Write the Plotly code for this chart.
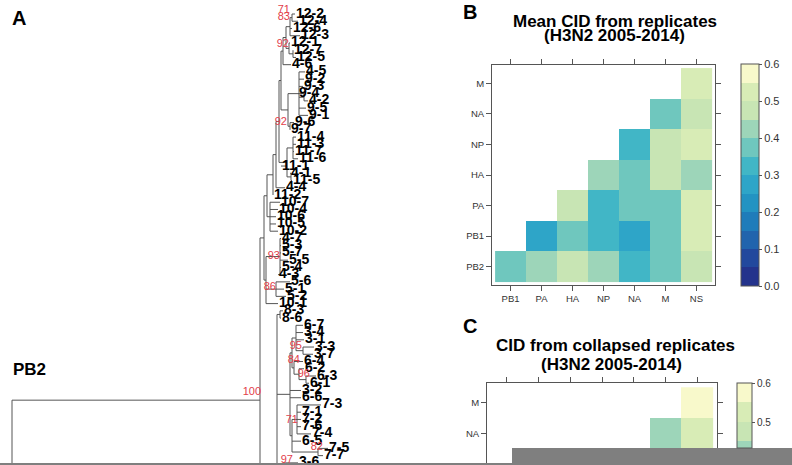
import plotly.graph_objects as go

W, H = 792, 465
FONT = "Liberation Sans, Arial, Helvetica, sans-serif"

# ---------------- panel A: PB2 replicate tree ----------------
leaf_names = ["12-2", "12-4", "12-6", "12-3", "12-1", "12-7", "12-5", "4-6", "4-5", "9-2",
              "9-3", "9-4", "4-2", "9-5", "9-1", "9-6", "9-7", "11-4", "11-3", "11-7",
              "11-6", "11-1", "4-1", "11-5", "4-4", "11-2", "10-7", "10-4", "10-6", "10-5",
              "10-2", "4-7", "5-3", "5-7", "5-5", "5-4", "4-3", "5-6", "5-1", "5-2",
              "10-1", "8-3", "8-6", "6-7", "3-4", "3-1", "3-3", "3-7", "6-4", "6-2",
              "6-3", "6-1", "3-2", "6-6", "7-3", "7-1", "7-2", "7-6", "7-4", "6-5",
              "7-5", "7-7", "3-6"]
# tip depth of every leaf (tree units)
leaf_tip = [295, 298, 292, 300, 290, 293, 296, 291, 305, 304,
            303, 298, 308, 306, 308, 294, 290, 296, 296, 294,
            298, 281, 290, 292, 285, 273, 280, 278, 276, 276,
            278, 281, 281, 281, 288, 281, 278, 290, 284, 286,
            278, 283, 281, 303, 303, 304, 314, 313, 303, 304,
            316, 309, 301, 301, 321, 301, 301, 301, 311, 301,
            328, 323, 298]

# clades: (node depth, [children]); ints are leaf rows, ("stub", row) runs below the page
c12 = (286, [(290, [(292, [0, 1]), 2, 3]), (289, [4, (293, [5, 6])])])
c9 = (288, [(299, [8, 9, 10, (304, [11, 12]), 13, 14]), (290, [15, 16])])
c11 = (287, [(293, [17, 18, 19, 20]), 21, (291, [22, 23])])
c10 = (270, [26, 27, 28, 29, 30])
c5 = (266, [(280, [31, 32, 33, 34, 35, 36]), (276, [37, 38, 39]), 40])
upper = (264, [(267, [(273, [(276, [(279, [(281, [(283, [c12, 7]), c9]), c11]), 24]), 25]), c10]), c5])
c6 = (292, [(296, [43, 44, 45, (303, [46, 47])]), (294, [48, (299, [49, (306, [50, 51])])])])
c7 = (292, [(297, [54, 55, 56, 57, 58]), 59, (318, [60, 61])])
lower = (277, [(280, [41, 42]), (290, [c6, 52, 53, c7]), (283, [62, ("stub", 66)]), ("stub", 110)])
tree = (12, [(260, [upper, lower]), ("stub", 150)])

# bootstrap support labels (right end depth, row)
bs_text = ["71", "83", "92", "92", "93", "86", "95", "84", "96", "100", "71", "82", "97"]
bs_x = [290, 290, 289, 287, 280, 276, 302, 300, 310, 261, 298, 323, 293]
bs_row = [-0.55, 0.41, 4.14, 14.9, 33.4, 37.7, 45.9, 47.8, 49.7, 52.3, 56.1, 59.8, 61.6]

# ---------------- panels B / C: CID heatmaps ----------------
genes_x = ["PB1", "PA", "HA", "NP", "NA", "M", "NS"]
genes_y = ["PB2", "PB1", "PA", "HA", "NP", "NA", "M"]
cid_mean = [
    [0.37, 0.42, 0.47, 0.42, 0.32, 0.37, 0.47],
    [None, 0.29, 0.37, 0.32, 0.29, 0.37, 0.52],
    [None, None, 0.47, 0.32, 0.37, 0.37, 0.52],
    [None, None, None, 0.42, 0.37, 0.47, 0.42],
    [None, None, None, None, 0.32, 0.47, 0.52],
    [None, None, None, None, None, 0.37, 0.47],
    [None, None, None, None, None, None, 0.52],
]
cid_collapsed = [
    [None] * 7,
    [None] * 7,
    [None] * 7,
    [None] * 7,
    [None] * 7,
    [None, None, None, None, None, 0.42, 0.52],
    [None, None, None, None, None, None, 0.57],
]
band_edges = [0.0, 0.05, 0.1, 0.15, 0.2, 0.25, 0.3, 0.35, 0.4, 0.45, 0.5, 0.55, 0.6]
band_colors = ["#24338c", "#22489d", "#2164ad", "#1f7cba", "#2393c2", "#2ea5c8",
               "#41b6c6", "#6fc7be", "#9dd5b9", "#c8e5b4", "#d8ecb6", "#f8f9cb"]


def discrete_scale(cmin, cmax):
    scale = []
    for lo, hi, col in zip(band_edges[:-1], band_edges[1:], band_colors):
        if hi <= cmin:
            continue
        a = max(0.0, (lo - cmin) / (cmax - cmin))
        b = min(1.0, (hi - cmin) / (cmax - cmin))
        scale += [[a, col], [b, col]]
    return scale


def walk(node, hx, vx):
    """returns (row, depth) of a node and collects branch segments"""
    if isinstance(node, int):
        return node, leaf_tip[node]
    if node[0] == "stub":
        return node[1], None
    x, kids = node
    rows = []
    for k in kids:
        r, kx = walk(k, hx, vx)
        hx.append((x, kx if kx is not None else x + 12, r))
        rows.append(r)
    vx.append((x, min(rows), max(rows)))
    return (min(rows) + max(rows)) / 2, x


hsegs, vsegs = [], []
walk(tree, hsegs, vsegs)
lx, ly = [], []
for x0, x1, r in hsegs:
    lx += [x0, x1, None]
    ly += [r, r, None]
for x, r0, r1 in vsegs:
    lx += [x, x, None]
    ly += [r0, r1, None]

fig = go.Figure()
fig.add_trace(go.Scatter(x=lx, y=ly, mode="lines", line=dict(color="#555555", width=1),
                         hoverinfo="skip", xaxis="x", yaxis="y"))
fig.add_trace(go.Scatter(x=[t + 1 for t in leaf_tip], y=list(range(len(leaf_names))),
                         text=leaf_names, mode="text", textposition="middle right",
                         textfont=dict(family=FONT, size=14, color="black", weight="bold"),
                         xaxis="x", yaxis="y"))
fig.add_trace(go.Scatter(x=bs_x, y=bs_row, text=bs_text, mode="text",
                         textposition="middle left",
                         textfont=dict(family=FONT, size=11, color="#e2404a"),
                         xaxis="x", yaxis="y"))

fig.add_trace(go.Heatmap(z=cid_mean, x=list(range(7)), y=list(range(7)),
                         coloraxis="coloraxis", xaxis="x2", yaxis="y2", hoverongaps=False))
fig.add_trace(go.Heatmap(z=cid_collapsed, x=list(range(7)), y=list(range(7)),
                         coloraxis="coloraxis2", xaxis="x3", yaxis="y3", hoverongaps=False))

row_px = 7.24
top_px = 14

ax_common = dict(showgrid=False, zeroline=False, showline=True, mirror="allticks",
                 linecolor="#555555", linewidth=1, ticks="outside", ticklen=5,
                 tickcolor="#555555", tickfont=dict(family=FONT, size=9.5, color="#333333"),
                 tickvals=list(range(7)), automargin=False)

cb_common = dict(thickness=18, lenmode="pixels", xanchor="left", yanchor="top",
                 xpad=0, ypad=0, outlinecolor="#555555", outlinewidth=1,
                 ticks="outside", ticklen=3, tickcolor="#555555", tickformat=".1f",
                 dtick=0.1, tick0=0, tickfont=dict(family=FONT, size=11, color="#333333"))

c2min = 0.6 - (448 - 383) / 390

fig.update_layout(
    width=W, height=H, margin=dict(l=0, r=0, t=0, b=0, autoexpand=False),
    paper_bgcolor="white", plot_bgcolor="rgba(0,0,0,0)", showlegend=False,
    xaxis=dict(domain=[0, 460 / W], range=[0, 460], visible=False, automargin=False),
    yaxis=dict(domain=[0, 1], range=[(H - top_px) / row_px, -top_px / row_px],
               visible=False, automargin=False),
    xaxis2=dict(domain=[492 / W, 715 / W], range=[-0.6, 6.6], ticktext=genes_x,
                anchor="y2", **ax_common),
    yaxis2=dict(domain=[1 - 285 / H, 1 - 65 / H], range=[-0.6, 6.6], ticktext=genes_y,
                anchor="x2", **ax_common),
    xaxis3=dict(domain=[487 / W, 717 / W], range=[-0.63, 6.63], ticktext=genes_x,
                anchor="y3", **ax_common),
    yaxis3=dict(domain=[0, 1 - 383 / H], range=[6.64 - (H - 383) / 30.6, 6.64],
                ticktext=genes_y, anchor="x3", **ax_common),
    coloraxis=dict(cmin=0, cmax=0.6, colorscale=discrete_scale(0, 0.6),
                   colorbar=dict(x=741 / W, y=1 - 64 / H, len=222, **cb_common)),
    coloraxis2=dict(cmin=c2min, cmax=0.6, colorscale=discrete_scale(c2min, 0.6),
                    colorbar=dict(x=737 / W, y=1 - 383 / H, len=65,
                                  **{**cb_common, "thickness": 15,
                                     "tickfont": dict(family=FONT, size=10, color="#333333")})),
)


def label(txt, x, y, size, anchor="left", bold=True):
    fig.add_annotation(text=txt, x=x / W, y=1 - y / H, xref="paper", yref="paper",
                       xanchor=anchor, yanchor="middle", showarrow=False,
                       font=dict(family=FONT, size=size, color="black",
                                 weight="bold" if bold else "normal"))


label("A", 10, 18, 20)
label("PB2", 11, 369, 17)
label("B", 461, 12, 20)
label("C", 461, 326, 20)
label("Mean CID from replicates", 615, 21, 17, "center")
label("(H3N2 2005-2014)", 614, 36, 17, "center")
label("CID from collapsed replicates", 615, 345, 17, "center")
label("(H3N2 2005-2014)", 611, 364, 17, "center")

# grey strip along the bottom edge of the source image
fig.add_shape(type="rect", xref="paper", yref="paper", x0=0, x1=1,
              y0=0, y1=2 / H, fillcolor="#7f7f7f", line_width=0, layer="above")
fig.add_shape(type="rect", xref="paper", yref="paper", x0=512 / W, x1=1,
              y0=0, y1=1 - 448 / H, fillcolor="#7f7f7f", line_width=0, layer="above")

fig.write_html("out.html", config={"displayModeBar": False},
               post_script="document.body.style.margin='0';document.body.style.overflow='hidden';")
